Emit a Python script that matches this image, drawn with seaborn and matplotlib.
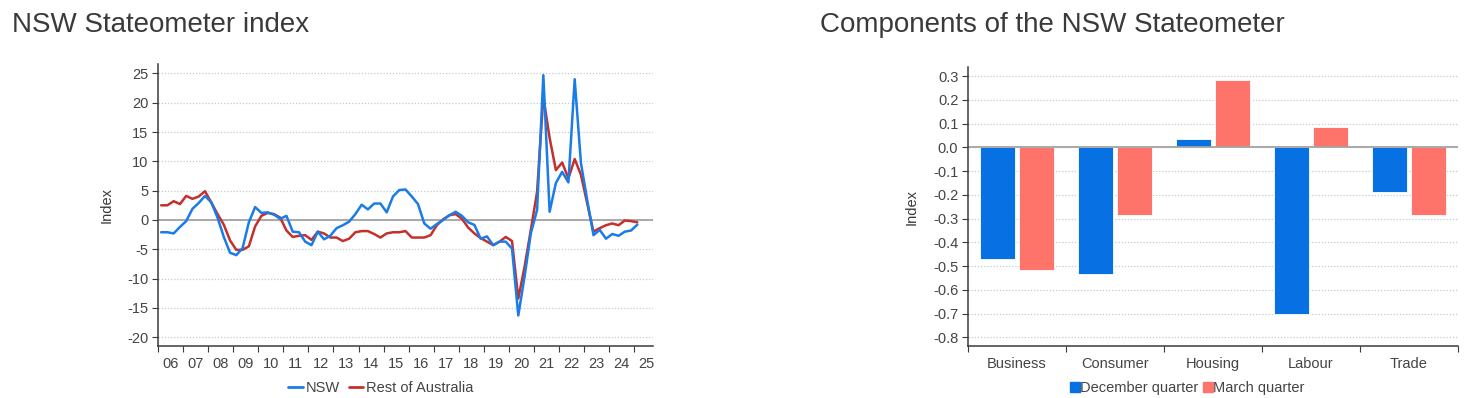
import numpy as np
import pandas as pd
import matplotlib
matplotlib.use('Agg')
import matplotlib.pyplot as plt
import seaborn as sns
from matplotlib.ticker import FixedLocator, FixedFormatter, NullFormatter, FuncFormatter
from matplotlib.lines import Line2D

# ---------------- data ----------------
quarters = pd.period_range('2006Q1', '2025Q1', freq='Q')

nsw = [-2.1, -2.1, -2.3, -1.2, -0.2, 1.9, 2.9, 4.1,
       3.0, 0.4, -2.9, -5.6, -6.0, -4.8, -0.4, 2.2,
       1.2, 1.3, 0.9, 0.2, 0.7, -2.0, -2.1, -3.7,
       -4.3, -2.0, -3.3, -2.7, -1.4, -0.9, -0.3, 1.0,
       2.6, 1.8, 2.8, 2.8, 1.3, 4.0, 5.1, 5.2,
       4.0, 2.7, -0.6, -1.5, -0.7, 0.0, 0.8, 1.4,
       0.7, -0.4, -0.85, -3.2, -2.8, -4.3, -3.7, -3.7,
       -4.9, -16.3, -9.7, -2.3, 1.7, 24.7, 1.4, 6.3,
       8.2, 6.4, 24.0, 9.7, 3.4, -2.6, -1.7, -3.2,
       -2.4, -2.7, -2.0, -1.8, -0.8]

rest = [2.5, 2.5, 3.2, 2.7, 4.1, 3.6, 4.0, 4.9,
        3.0, 1.0, -0.8, -3.5, -5.1, -5.1, -4.5, -1.1,
        0.7, 1.2, 1.0, 0.4, -1.8, -2.9, -2.7, -2.6,
        -3.4, -2.0, -2.3, -3.0, -3.0, -3.6, -3.2, -2.1,
        -1.9, -1.9, -2.4, -3.0, -2.3, -2.1, -2.1, -1.9,
        -3.0, -3.0, -3.0, -2.6, -0.9, 0.1, 0.8, 1.0,
        0.2, -1.3, -2.3, -3.1, -3.7, -4.3, -3.7, -2.9,
        -3.6, -13.4, -8.0, -1.7, 4.8, 21.0, 14.0, 8.5,
        9.8, 7.1, 10.4, 7.7, 2.8, -2.0, -1.4, -0.9,
        -0.6, -0.9, -0.1, -0.2, -0.4]

year_labels = ['06', '07', '08', '09', '10', '11', '12', '13', '14', '15',
               '16', '17', '18', '19', '20', '21', '22', '23', '24', '25']

components = ['Business', 'Consumer', 'Housing', 'Labour', 'Trade']
dec_quarter = [-0.470, -0.535, 0.036, -0.702, -0.187]
mar_quarter = [-0.517, -0.285, 0.283, 0.087, -0.284]

# ---------------- style ----------------
sns.set_theme(style='white')
plt.rcParams['font.family'] = ['Liberation Sans', 'DejaVu Sans']
plt.rcParams['axes.unicode_minus'] = False

TEXT = '#3a3a3a'
TICK = '#444444'
GRID = '#bccbd4'
BLUE_LINE = '#1a7ce8'
RED_LINE = '#c4302b'
BLUE_BAR = '#0771e4'
RED_BAR = '#ff746a'

fig = plt.figure(figsize=(14.73, 3.98), dpi=100)
ax1 = fig.add_axes([158 / 1473, 1 - 346 / 398, 495 / 1473, 282 / 398])
ax2 = fig.add_axes([968 / 1473, 1 - 345.7 / 398, 490 / 1473, 278.4 / 398])

# ---------------- left: line chart ----------------
t = np.asarray(quarters.year + (quarters.quarter - 0.5) / 4.0, dtype=float)
df = pd.DataFrame({
    't': np.concatenate([t, t]),
    'value': nsw + rest,
    'series': ['NSW'] * len(t) + ['Rest of Australia'] * len(t),
})
sns.lineplot(data=df, x='t', y='value', hue='series',
             hue_order=['Rest of Australia', 'NSW'],
             palette={'NSW': BLUE_LINE, 'Rest of Australia': RED_LINE},
             linewidth=1.8, ax=ax1, legend=False)

ax1.axhline(0, color='#a3a3a3', linewidth=1.3, zorder=1)
ax1.set_xlim(2006, 2025.75)
ax1.set_ylim(-21.5, 26.6)
ax1.yaxis.set_major_locator(FixedLocator(np.arange(-20, 26, 5)))
ax1.xaxis.set_major_locator(FixedLocator(np.arange(2006, 2026)))
ax1.xaxis.set_major_formatter(NullFormatter())
ax1.xaxis.set_minor_locator(FixedLocator(np.arange(2006, 2026) + 0.5))
ax1.xaxis.set_minor_formatter(FixedFormatter(year_labels))
ax1.set_xlabel('')
ax1.set_ylabel('Index', color=TEXT, fontsize=10.5)
ax1.yaxis.set_label_coords(-0.089, 0.5)

# ---------------- right: bar chart ----------------
dfb = pd.DataFrame({
    'component': components * 2,
    'value': dec_quarter + mar_quarter,
    'quarter': ['December quarter'] * 5 + ['March quarter'] * 5,
})
sns.barplot(data=dfb, x='component', y='value', hue='quarter',
            palette={'December quarter': BLUE_BAR, 'March quarter': RED_BAR},
            width=0.8, gap=0.1, saturation=1, ax=ax2, legend=False,
            edgecolor='white', linewidth=0.6)
ax2.axhline(0, color='#a3a3a3', linewidth=1.3, zorder=1)
ax2.set_xlim(-0.5, 4.5)
ax2.set_ylim(-0.835, 0.337)
ax2.yaxis.set_major_locator(FixedLocator(np.arange(-0.8, 0.31, 0.1)))
ax2.yaxis.set_major_formatter(FuncFormatter(lambda v, p: f'{round(v, 1) + 0.0:.1f}'))
ax2.xaxis.set_major_locator(FixedLocator(np.arange(-0.5, 4.6, 1.0)))
ax2.xaxis.set_major_formatter(NullFormatter())
ax2.xaxis.set_minor_locator(FixedLocator(np.arange(0, 5)))
ax2.xaxis.set_minor_formatter(FixedFormatter(components))
ax2.set_xlabel('')
ax2.set_ylabel('Index', color=TEXT, fontsize=10.5)
ax2.yaxis.set_label_coords(-0.1, 0.5)

# ---------------- common axis styling ----------------
for ax in (ax1, ax2):
    ax.set_axisbelow(True)
    ax.yaxis.grid(True, linestyle=(0, (1, 1.5)), color=GRID, linewidth=0.9)
    ax.xaxis.grid(False)
    for s in ('top', 'right'):
        ax.spines[s].set_visible(False)
    for s in ('left', 'bottom'):
        ax.spines[s].set_visible(True)
        ax.spines[s].set_color('#3a3a3a')
        ax.spines[s].set_linewidth(1.1)
    ax.tick_params(axis='y', which='major', left=True, length=4, width=0.8,
                   color='#3a3a3a', labelsize=10.5, labelcolor=TICK, pad=3)
    ax.tick_params(axis='x', which='major', bottom=True, length=4, width=0.8,
                   color='#3a3a3a')
    ax.tick_params(axis='x', which='minor', bottom=True, length=0,
                   labelsize=10.5, labelcolor=TICK, pad=8)

# ---------------- titles ----------------
fig.text(12 / 1473, 1 - 25 / 398, 'NSW Stateometer index', fontsize=20,
         color=TEXT, va='center', ha='left')
fig.text(820 / 1473, 1 - 25 / 398, 'Components of the NSW Stateometer',
         fontsize=20, color=TEXT, va='center', ha='left')

# ---------------- legends ----------------
h1 = [Line2D([], [], color=BLUE_LINE, linewidth=2),
      Line2D([], [], color=RED_LINE, linewidth=2)]
fig.legend(h1, ['NSW', 'Rest of Australia'], loc='center',
           bbox_to_anchor=(381 / 1473, 1 - 388 / 398), ncol=2, frameon=False,
           fontsize=10.5, handlelength=1.0, handletextpad=0.2,
           columnspacing=0.6, labelcolor=TICK)

h2 = [Line2D([], [], color=BLUE_BAR, marker='s', linestyle='none', markersize=6.5),
      Line2D([], [], color=RED_BAR, marker='s', linestyle='none', markersize=6.5)]
fig.legend(h2, ['December quarter', 'March quarter'], loc='center',
           bbox_to_anchor=(1188 / 1473, 1 - 388 / 398), ncol=2, frameon=False,
           fontsize=10.5, handlelength=0.5, handletextpad=0.1,
           columnspacing=0.4, labelcolor=TICK)

fig.savefig('out.png', dpi=100)
